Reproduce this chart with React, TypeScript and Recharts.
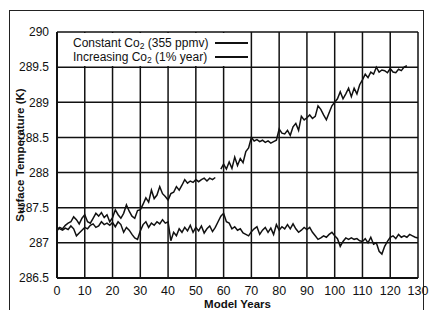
import React from 'react';
import { LineChart, Line, XAxis, YAxis, CartesianGrid, Label } from 'recharts';

// model years 0..130, one value per year
const constantCo2 = [
  287.22, 287.2, 287.18, 287.21, 287.19, 287.24, 287.2, 287.1, 287.14, 287.18,
  287.22, 287.2, 287.25, 287.27, 287.22, 287.24, 287.3, 287.26, 287.28, 287.25,
  287.29, 287.23, 287.3, 287.26, 287.15, 287.22, 287.18, 287.12, 287.07, 287.05,
  287.17, 287.26, 287.3, 287.22, 287.28, 287.25, 287.3, 287.27, 287.33, 287.28,
  287.3, 287.03, 287.15, 287.1, 287.2, 287.15, 287.22, 287.17, 287.25, 287.15,
  287.22, 287.17, 287.24, 287.14, 287.2, 287.24, 287.16, 287.22, 287.3, 287.38,
  287.42, 287.3, 287.28, 287.2, 287.23, 287.18, 287.2, 287.14, 287.12, 287.1,
  287.16, 287.2, 287.23, 287.12, 287.18, 287.22, 287.15, 287.21, 287.12, 287.26,
  287.18, 287.23, 287.2, 287.26, 287.2, 287.27, 287.2, 287.15, 287.18, 287.22,
  287.19, 287.22, 287.15, 287.1, 287.05, 287.07, 287.1, 287.08, 287.12, 287.15,
  287.1, 287.06, 286.95, 287.02, 287.07, 287.05, 287.07, 287.05, 287.06, 287.03,
  287.02, 287.06, 287.0, 287.08, 286.98, 287.0, 286.88, 286.84, 286.95, 287.02,
  287.08, 287.1, 287.06, 287.12, 287.08, 287.1, 287.08, 287.12, 287.1, 287.08,
  287.07,
];

const increasingCo2: (number | null)[] = [
  287.17, 287.22, 287.2, 287.25, 287.28, 287.3, 287.37, 287.33, 287.27, 287.35,
  287.4, 287.3, 287.28, 287.35, 287.42, 287.38, 287.43, 287.36, 287.4, 287.3,
  287.36, 287.47, 287.4, 287.35, 287.42, 287.54, 287.45, 287.38, 287.35, 287.46,
  287.47, 287.55, 287.64, 287.58, 287.75, 287.63, 287.68, 287.8, 287.7, 287.66,
  287.61, 287.7, 287.72, 287.8, 287.75, 287.82, 287.9, 287.85, 287.88, 287.86,
  287.9, 287.87, 287.9, 287.92, 287.88, 287.92, 287.9, 287.93, null, 288.05,
  288.12, 288.05, 288.15, 288.06, 288.22, 288.1, 288.2, 288.14, 288.3, 288.35,
  288.5, 288.45, 288.47, 288.44, 288.46, 288.43, 288.45, 288.42, 288.44, 288.46,
  288.62, 288.56, 288.55, 288.6, 288.53, 288.65, 288.7, 288.6, 288.8, 288.75,
  288.78, 288.82, 288.77, 288.8, 288.95, 288.9, 288.82, 288.75, 288.85, 288.95,
  289.0, 289.05, 289.15, 289.05, 289.12, 289.2, 289.08, 289.2, 289.12, 289.25,
  289.32, 289.4, 289.35, 289.43, 289.4, 289.5, 289.43, 289.46, 289.45, 289.42,
  289.48, 289.43, 289.42, 289.47, 289.45, 289.5, 289.52,
];

const xTicks = [0, 10, 20, 30, 40, 50, 60, 70, 80, 90, 100, 110, 120, 130];
const yTicks = [286.5, 287, 287.5, 288, 288.5, 289, 289.5, 290];
const legendItems = [
  { name: 'Constant Co', note: ' (355 ppmv)' },
  { name: 'Increasing Co', note: ' (1% year)' },
];

const data = constantCo2.map((v, i) => ({
  year: i,
  constant: v,
  increasing: i < increasingCo2.length ? increasingCo2[i] : null,
}));

const FONT = 'Liberation Sans, Arial, Helvetica, sans-serif';

// legend sits inside the plot, top-left, covering the grid under it
const LegendBox = () => (
  <div
    style={{
      position: 'absolute', left: 58, top: 33, width: 192, height: 33,
      background: '#fff', fontFamily: FONT, fontSize: 12, color: '#111', paddingTop: 3, boxSizing: 'border-box',
    }}
  >
    {legendItems.map((it) => (
      <div key={it.name} style={{ display: 'flex', alignItems: 'center', height: 14 }}>
        <span style={{ width: 15 }} />
        <span style={{ width: 142, whiteSpace: 'nowrap', lineHeight: '12px', height: 12 }}>
          {it.name}
          <span style={{ fontSize: 8.5, position: 'relative', top: 2 }}>2</span>
          {it.note}
        </span>
        <span style={{ display: 'inline-block', width: 33, height: 0, borderTop: '2px solid #111' }} />
      </div>
    ))}
  </div>
);

const App = () => {
  return (
    <div style={{ position: 'absolute', left: 0, top: 0, width: 433, height: 310, background: '#fff' }}>
      <div style={{ position: 'absolute', left: 9, top: 10, width: 413, height: 310, border: '1.5px solid #222', borderBottom: 'none' }} />
      <LineChart
        width={433}
        height={310}
        data={data}
        margin={{ top: 32, right: 15, left: 0, bottom: 0 }}
        style={{ fontFamily: FONT }}
      >
        <CartesianGrid stroke="#111" strokeWidth={1.5} />
        <XAxis
          type="number"
          dataKey="year"
          domain={[0, 130]}
          ticks={xTicks}
          height={32}
          axisLine={{ stroke: '#111', strokeWidth: 2 }}
          tickLine={false}
          tick={{ fontSize: 12.5, fill: '#111' }}
          tickMargin={2}
          interval={0}
        >
          <Label value="Model Years" position="insideBottom" offset={2} style={{ fontSize: 11.5, fontWeight: 'bold', fill: '#111' }} />
        </XAxis>
        <YAxis
          type="number"
          domain={[286.5, 290]}
          ticks={yTicks}
          width={57}
          axisLine={{ stroke: '#111', strokeWidth: 2 }}
          tickLine={false}
          tick={{ fontSize: 12, fill: '#111' }}
          tickMargin={2}
          interval={0}
        >
          <Label
            value="Surface Temperature (K)"
            angle={-90}
            position="insideLeft"
            offset={20}
            style={{ fontSize: 11.5, fontWeight: 'bold', fill: '#111', textAnchor: 'middle' }}
          />
        </YAxis>
        <Line type="linear" dataKey="constant" stroke="#111" strokeWidth={1.5} dot={false} isAnimationActive={false} />
        <Line type="linear" dataKey="increasing" stroke="#111" strokeWidth={1.5} dot={false} isAnimationActive={false} />
      </LineChart>
      <LegendBox />
    </div>
  );
};

export default App;
